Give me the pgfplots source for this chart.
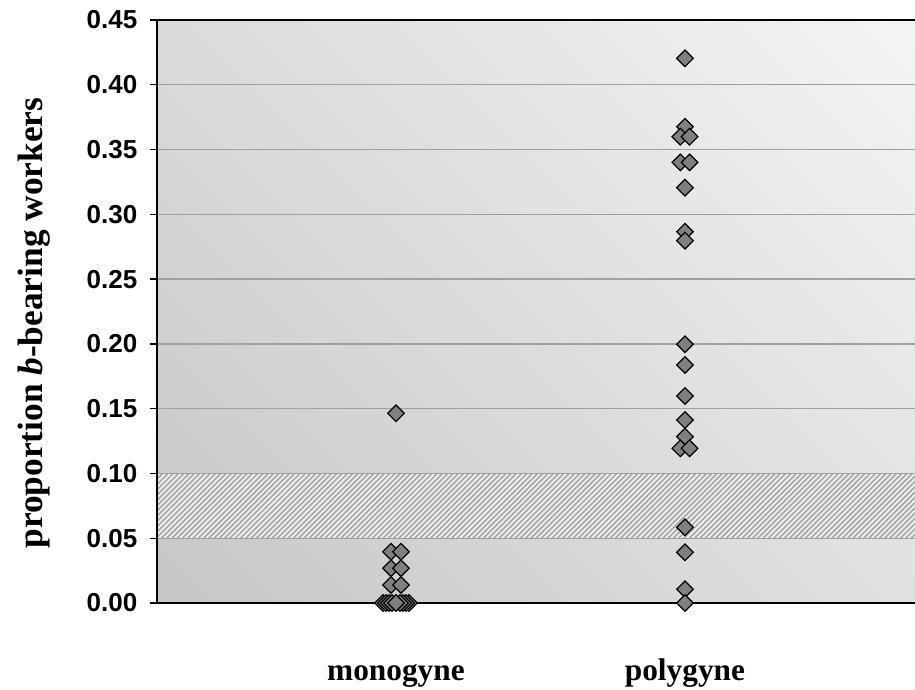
\documentclass[border=0pt]{standalone}
\usepackage{fontspec}
\setmainfont{Liberation Serif}
\setsansfont{Liberation Sans}
\usepackage{pgfplots}
\pgfplotsset{compat=1.18}
\usetikzlibrary{patterns.meta}
\definecolor{bgdark}{HTML}{BDBDBD}
\definecolor{bglight}{HTML}{FEFEFE}
\definecolor{gridgray}{HTML}{A0A0A0}
\definecolor{bandbg}{HTML}{F2F2F2}
\definecolor{bandline}{HTML}{A8A8A8}
\definecolor{diamondgray}{HTML}{808080}
\pgfdeclarehorizontalshading{bgshade}{100bp}{color(0bp)=(bgdark); color(100bp)=(bglight)}
\begin{document}
\begin{tikzpicture}
\begin{axis}[
  scale only axis,
  width=568.5pt, height=437.25pt,
  xmin=0.173, xmax=2.796,
  ymin=0, ymax=0.45,
  clip=false,
  axis line style={draw=none},
  axis background/.style={shade, shading=bgshade, shading angle=45},
  ymajorgrids,
  major grid style={gridgray, line width=1pt},
  ytick={0,0.05,...,0.451},
  ytick pos=left,
  tick align=outside,
  major tick length=5.25pt,
  ytick style={black, line width=1pt},
  xtick={1,2},
  xticklabels={monogyne,polygyne},
  xtick style={draw=none},
  /pgf/number format/assume math mode=true,
  yticklabel style={font=\fontsize{19.5}{22}\selectfont\sffamily\bfseries, xshift=-6pt,
    /pgf/number format/fixed, /pgf/number format/fixed zerofill,
    /pgf/number format/precision=2},
  xticklabel style={font=\fontsize{23.5}{26}\selectfont\bfseries, anchor=base, yshift=-52.5pt},
  ylabel={proportion \textit{b}-bearing workers},
  ylabel style={font=\fontsize{26.5}{30}\selectfont\bfseries, at={(rel axis cs:-0.1517,0.48)}, anchor=base},
]
% hatched band 0.05 - 0.10
\addplot[draw=none, fill=bandbg] coordinates {(0.173,0.05) (2.796,0.05) (2.796,0.10) (0.173,0.10)} -- cycle;
\addplot[draw=none, pattern={Lines[angle=45, distance=2.8pt, line width=1.3pt]}, pattern color=bandline] coordinates {(0.173,0.05) (2.796,0.05) (2.796,0.10) (0.173,0.10)} -- cycle;
\addplot[gridgray, line width=1pt] coordinates {(0.173,0.05) (2.796,0.05)};
\addplot[gridgray, line width=1pt] coordinates {(0.173,0.10) (2.796,0.10)};
% frame
\draw[black, line width=1.5pt] (rel axis cs:1,1) -- (rel axis cs:0,1) -- (rel axis cs:0,0) -- (rel axis cs:1,0);
% monogyne
\addplot[only marks, mark=square*, mark size=4.4pt,
  mark options={fill=diamondgray, draw=black, line width=0.9pt, rotate=45}]
  table {
x y
0.955 0
1.045 0
0.9654 0
1.0346 0
0.9758 0
1.0242 0
0.9862 0
1.0138 0
1.0 0
0.9827 0.0139
1.0173 0.0139
0.9827 0.0268
1.0173 0.0268
0.9827 0.0396
1.0173 0.0396
1.0 0.1464
};
% polygyne
\addplot[only marks, mark=square*, mark size=4.4pt,
  mark options={fill=diamondgray, draw=black, line width=0.9pt, rotate=45}]
  table {
x y
2.0 0.4204
2.0 0.3676
1.984 0.3599
2.016 0.3599
1.984 0.3401
2.016 0.3401
2.0 0.3206
2.0 0.2866
2.0 0.2797
2.0 0.1997
2.0 0.1837
2.0 0.1598
2.0 0.1412
2.0 0.1284
1.984 0.1194
2.016 0.1194
2.0 0.0584
2.0 0.0391
2.0 0.0106
2.0 0.0
};
\end{axis}
\pgfresetboundingbox
\path ([shift={(-117.75pt,-64.5pt)}]current axis.south west) rectangle ([shift={(0pt,15pt)}]current axis.north east);
\end{tikzpicture}
\end{document}
